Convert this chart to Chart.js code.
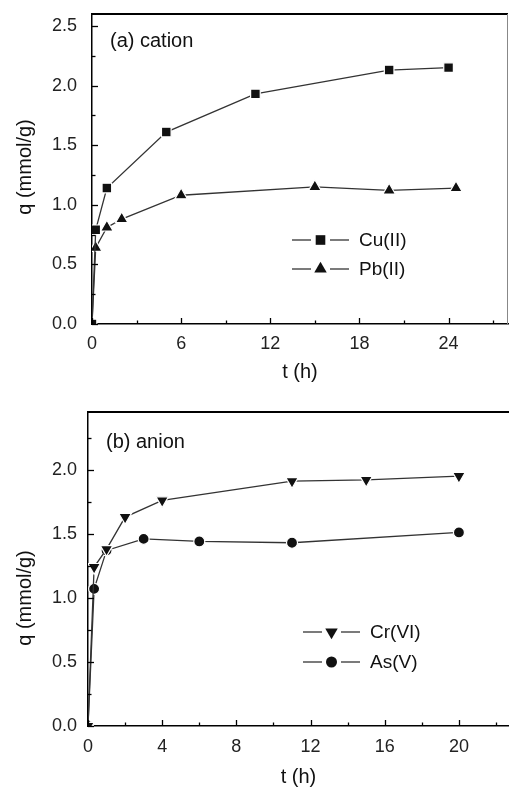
<!DOCTYPE html>
<html><head><meta charset="utf-8">
<script src="https://cdn.jsdelivr.net/npm/chart.js@4/dist/chart.umd.min.js"></script>
<style>
html,body{margin:0;padding:0;background:#fff;overflow:hidden;width:509px;height:788px}
#c1{position:absolute;left:0;top:0}
#c2{position:absolute;left:0;top:390px}
</style>
</head><body>
<canvas id="c1" width="509" height="390"></canvas>
<canvas id="c2" width="509" height="398"></canvas>
<script>
// ---- data (a) cation ----
const cuTime = [0, 0.25, 1, 5, 11, 20, 24];
const cuQ    = [0, 0.79, 1.14, 1.61, 1.93, 2.13, 2.15];
const pbTime = [0, 0.25, 1, 2, 6, 15, 20, 24.5];
const pbQ    = [0, 0.64, 0.81, 0.88, 1.08, 1.15, 1.12, 1.14];
// ---- data (b) anion ----
const crTime = [0, 0.33, 1, 2, 4, 11, 15, 20];
const crQ    = [0, 1.24, 1.38, 1.63, 1.76, 1.91, 1.92, 1.95];
const asTime = [0, 0.33, 1, 3, 6, 11, 20];
const asQ    = [0, 1.07, 1.37, 1.46, 1.44, 1.43, 1.51];
// ---- ticks ----
const xTicksA = [0, 6, 12, 18, 24];
const xMinorA = [3, 9, 15, 21, 27];
const yTicksA = [0, 0.5, 1, 1.5, 2, 2.5];
const yLabelsA = ['0.0', '0.5', '1.0', '1.5', '2.0', '2.5'];
const yMinorA = [0.25, 0.75, 1.25, 1.75, 2.25];
const xTicksB = [0, 4, 8, 12, 16, 20];
const xMinorB = [2, 6, 10, 14, 18, 22];
const yTicksB = [0, 0.5, 1, 1.5, 2];
const yLabelsB = ['0.0', '0.5', '1.0', '1.5', '2.0'];
const yMinorB = [0.25, 0.75, 1.25, 1.75, 2.25];
const seriesNamesA = ['Cu(II)', 'Pb(II)'];
const seriesNamesB = ['Cr(VI)', 'As(V)'];

const FONT = '"Liberation Sans", Arial, Helvetica, sans-serif';
Chart.defaults.font.family = FONT;
Chart.defaults.color = '#222';

function pts(xs, ys) { return xs.map((x, i) => ({x: x, y: ys[i]})); }

function ds(label, xs, ys, style, radius, rotation) {
  return {
    label: label, data: pts(xs, ys),
    borderColor: '#333', borderWidth: 1.3, tension: 0,
    pointStyle: style, pointRadius: radius, pointRotation: rotation || 0,
    pointBackgroundColor: '#111', pointBorderColor: '#fff', pointBorderWidth: 1.2,
    pointHoverRadius: radius
  };
}

function deco(o) {
  return {
    id: 'deco',
    afterDraw(chart) {
      const ctx = chart.ctx, a = chart.chartArea, x = chart.scales.x, y = chart.scales.y;
      ctx.save();
      ctx.strokeStyle = '#000'; ctx.lineWidth = 2;
      ctx.beginPath(); ctx.moveTo(a.left, a.top); ctx.lineTo(a.right, a.top); ctx.stroke();
      if (o.rightBorder) {
        ctx.strokeStyle = '#888'; ctx.lineWidth = 1;
        ctx.beginPath(); ctx.moveTo(a.right - 0.5, a.top); ctx.lineTo(a.right - 0.5, a.bottom); ctx.stroke();
      }
      ctx.strokeStyle = '#000'; ctx.lineWidth = 1.3;
      const seg = (x1, y1, x2, y2) => { ctx.beginPath(); ctx.moveTo(x1, y1); ctx.lineTo(x2, y2); ctx.stroke(); };
      o.xMajor.forEach(v => { const p = Math.round(x.getPixelForValue(v)) + 0.5; seg(p, a.bottom, p, a.bottom - 6); });
      o.xMinor.forEach(v => { const p = Math.round(x.getPixelForValue(v)) + 0.5; seg(p, a.bottom, p, a.bottom - 3.5); });
      o.yMajor.forEach(v => { const p = Math.round(y.getPixelForValue(v)) + 0.5; seg(a.left, p, a.left + 6, p); });
      o.yMinor.forEach(v => { const p = Math.round(y.getPixelForValue(v)) + 0.5; seg(a.left, p, a.left + 3.5, p); });
      ctx.fillStyle = '#111';
      ctx.font = '20px ' + FONT; ctx.textBaseline = 'middle'; ctx.textAlign = 'left';
      ctx.fillText(o.panel, o.panelX, o.panelY);
      ctx.save();
      ctx.translate(o.yTitleX, o.yTitleY); ctx.rotate(-Math.PI / 2);
      ctx.textAlign = 'center'; ctx.textBaseline = 'middle';
      ctx.font = '20px ' + FONT;
      ctx.fillText('q (mmol/g)', 0, 0);
      ctx.restore();
      chart.data.datasets.forEach((d, i) => {
        const ly = o.legY[i];
        ctx.strokeStyle = '#333'; ctx.lineWidth = 1.3;
        seg(o.legX0, ly, o.legX0 + 19, ly);
        seg(o.legX0 + 38, ly, o.legX0 + 57, ly);
        ctx.fillStyle = '#111'; ctx.strokeStyle = '#fff'; ctx.lineWidth = 1.2;
        Chart.helpers.drawPoint(ctx, {pointStyle: d.pointStyle, radius: d.pointRadius, rotation: d.pointRotation}, o.legX0 + 28.5, ly);
        ctx.fillStyle = '#111';
        ctx.font = '19px ' + FONT; ctx.textAlign = 'left'; ctx.textBaseline = 'middle';
        ctx.fillText(d.label, o.legX0 + 67, ly + 1);
      });
      ctx.restore();
    }
  };
}

function makeChart(id, datasets, cfg) {
  return new Chart(document.getElementById(id), {
    type: 'line',
    data: { datasets: datasets },
    options: {
      responsive: false, animation: false, events: [],
      layout: { padding: cfg.padding, autoPadding: false },
      plugins: { legend: { display: false }, tooltip: { enabled: false } },
      scales: {
        x: {
          type: 'linear', min: 0, max: cfg.xMax,
          afterBuildTicks: s => { s.ticks = cfg.xTicks.map(v => ({value: v})); },
          afterFit: s => { s.height = cfg.xHeight; s.paddingLeft = 0; s.paddingRight = 0; },
          ticks: { font: { size: 18 }, color: '#222', padding: cfg.xPad, maxRotation: 0, callback: v => String(v) },
          grid: { display: false, drawTicks: false },
          border: { display: true, color: '#000', width: 1.5 },
          title: { display: true, text: 't (h)', font: { size: 20, lineHeight: 1 }, color: '#111', padding: 0 }
        },
        y: {
          type: 'linear', min: 0, max: cfg.yMax,
          afterBuildTicks: s => { s.ticks = cfg.yTicks.map(v => ({value: v})); },
          afterFit: s => { s.width = cfg.yWidth; s.paddingTop = 0; s.paddingBottom = 0; },
          ticks: { font: { size: 18 }, color: '#222', padding: cfg.yPad, callback: (v, i) => cfg.yLabels[i] },
          grid: { display: false, drawTicks: false },
          border: { display: true, color: '#000', width: 1.5 }
        }
      }
    },
    plugins: [deco(cfg.deco)]
  });
}

makeChart('c1', [
  ds(seriesNamesA[0], cuTime, cuQ, 'rect', 6.8),
  ds(seriesNamesA[1], pbTime, pbQ, 'triangle', 7.2)
], {
  padding: { top: 14, right: 1, bottom: 8, left: 0 },
  xMax: 28, xTicks: xTicksA, yMax: 2.6, yTicks: yTicksA, yLabels: yLabelsA,
  xHeight: 58, yWidth: 92, xPad: 9, yPad: 15,
  deco: { rightBorder: true, xMajor: xTicksA, xMinor: xMinorA, yMajor: yTicksA, yMinor: yMinorA,
          panel: '(a) cation', panelX: 110, panelY: 41, yTitleX: 25, yTitleY: 167,
          legX0: 292, legY: [240, 269] }
});

makeChart('c2', [
  ds(seriesNamesB[0], crTime, crQ, 'triangle', 7.2, 180),
  ds(seriesNamesB[1], asTime, asQ, 'circle', 5.5)
], {
  padding: { top: 22, right: 0, bottom: 1, left: 0 },
  xMax: 22.7, xTicks: xTicksB, yMax: 2.45, yTicks: yTicksB, yLabels: yLabelsB,
  xHeight: 61, yWidth: 88, xPad: 10, yPad: 11,
  deco: { rightBorder: false, xMajor: xTicksB, xMinor: xMinorB, yMajor: yTicksB, yMinor: yMinorB,
          panel: '(b) anion', panelX: 106, panelY: 52, yTitleX: 25, yTitleY: 208,
          legX0: 303, legY: [242, 272] }
});
</script>
</body></html>
